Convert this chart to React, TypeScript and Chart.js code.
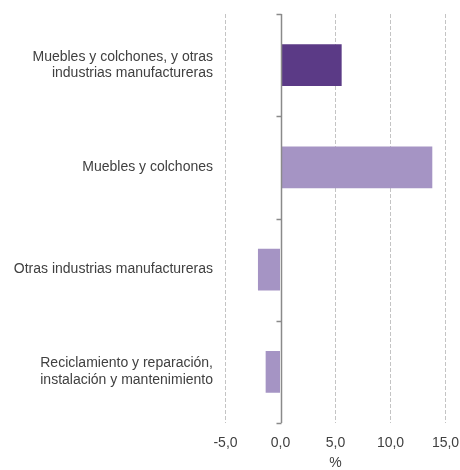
import React, { useEffect, useRef } from "react";
import { Chart, registerables } from "chart.js";

Chart.register(...registerables);

const categories: (string | string[])[] = [
  ["Muebles y colchones, y otras", "industrias manufactureras"],
  "Muebles y colchones",
  "Otras industrias manufactureras",
  ["Reciclamiento y reparación,", "instalación y mantenimiento"],
];
const values = [5.56, 13.8, -2.05, -1.35];
const barColors = ["#5B3A86", "#A594C4", "#A594C4", "#A594C4"];
const xTicks = [-5, 0, 5, 10, 15];
const axisTitle = "%";

const FONT = "'Liberation Sans', Arial, Helvetica, sans-serif";
const TEXT = "#404040";

const zeroAxis = {
  id: "zeroAxis",
  afterDatasetsDraw(chart: any) {
    const { ctx, chartArea, scales } = chart;
    const x = scales.x;
    const y = scales.y;
    const px = Math.round(x.getPixelForValue(0)) + 0.5;
    ctx.save();
    ctx.strokeStyle = "#8a8a8a";
    ctx.lineWidth = 1.5;
    ctx.beginPath();
    ctx.moveTo(px, chartArea.top);
    ctx.lineTo(px, chartArea.bottom);
    for (let i = 0; i <= categories.length; i++) {
      const yy = Math.round(y.getPixelForValue(i - 0.5)) + 0.5;
      ctx.moveTo(px - 5, yy);
      ctx.lineTo(px, yy);
    }
    ctx.stroke();
    ctx.restore();
  },
};

export default function App() {
  const ref = useRef<HTMLCanvasElement>(null);
  useEffect(() => {
    if (!ref.current) return;
    const chart = new Chart(ref.current, {
      type: "bar",
      data: {
        labels: categories,
        datasets: [
          {
            data: values,
            backgroundColor: barColors,
            borderColor: barColors,
            borderWidth: 0,
            barPercentage: 0.41,
            categoryPercentage: 1,
          },
        ],
      },
      options: {
        indexAxis: "y",
        responsive: false,
        animation: false,
        layout: { padding: { top: 14, right: 14.5, bottom: 0, left: 0 } },
        plugins: {
          legend: { display: false },
          tooltip: { enabled: false },
        },
        scales: {
          x: {
            min: -5,
            max: 15,
            afterBuildTicks: (scale: any) => {
              scale.ticks = xTicks.map((v) => ({ value: v }));
            },
            afterFit: (scale: any) => {
              scale.height = 47;
              scale.paddingLeft = 0;
              scale.paddingRight = 0;
            },
            ticks: {
              color: TEXT,
              font: { family: FONT, size: 14 },
              padding: 12,
              callback: (v: any) => Number(v).toFixed(1).replace(".", ","),
            },
            grid: {
              color: (c: any) => (c.tick && c.tick.value === 0 ? "rgba(0,0,0,0)" : "#c4c4c4"),
              drawTicks: false,
              lineWidth: 1,
            },
            border: { display: false, dash: [4, 2] },
            title: {
              display: true,
              text: axisTitle,
              color: TEXT,
              font: { family: FONT, size: 14 },
              padding: { top: 4, bottom: -2 },
            },
          },
          y: {
            afterFit: (scale: any) => {
              scale.width = 225.5;
              scale.paddingTop = 0;
              scale.paddingBottom = 0;
            },
            ticks: {
              color: TEXT,
              font: { family: FONT, size: 14, lineHeight: 1.2 },
              padding: 12.5,
              crossAlign: "near",
            },
            grid: { display: false, drawTicks: false },
            border: { display: false },
          },
        },
      },
      plugins: [zeroAxis],
    });
    return () => chart.destroy();
  }, []);
  return (
    <div style={{ position: "absolute", left: 0, top: 0, width: 460, height: 470, background: "#fff" }}>
      <canvas ref={ref} width={460} height={470} />
    </div>
  );
}
